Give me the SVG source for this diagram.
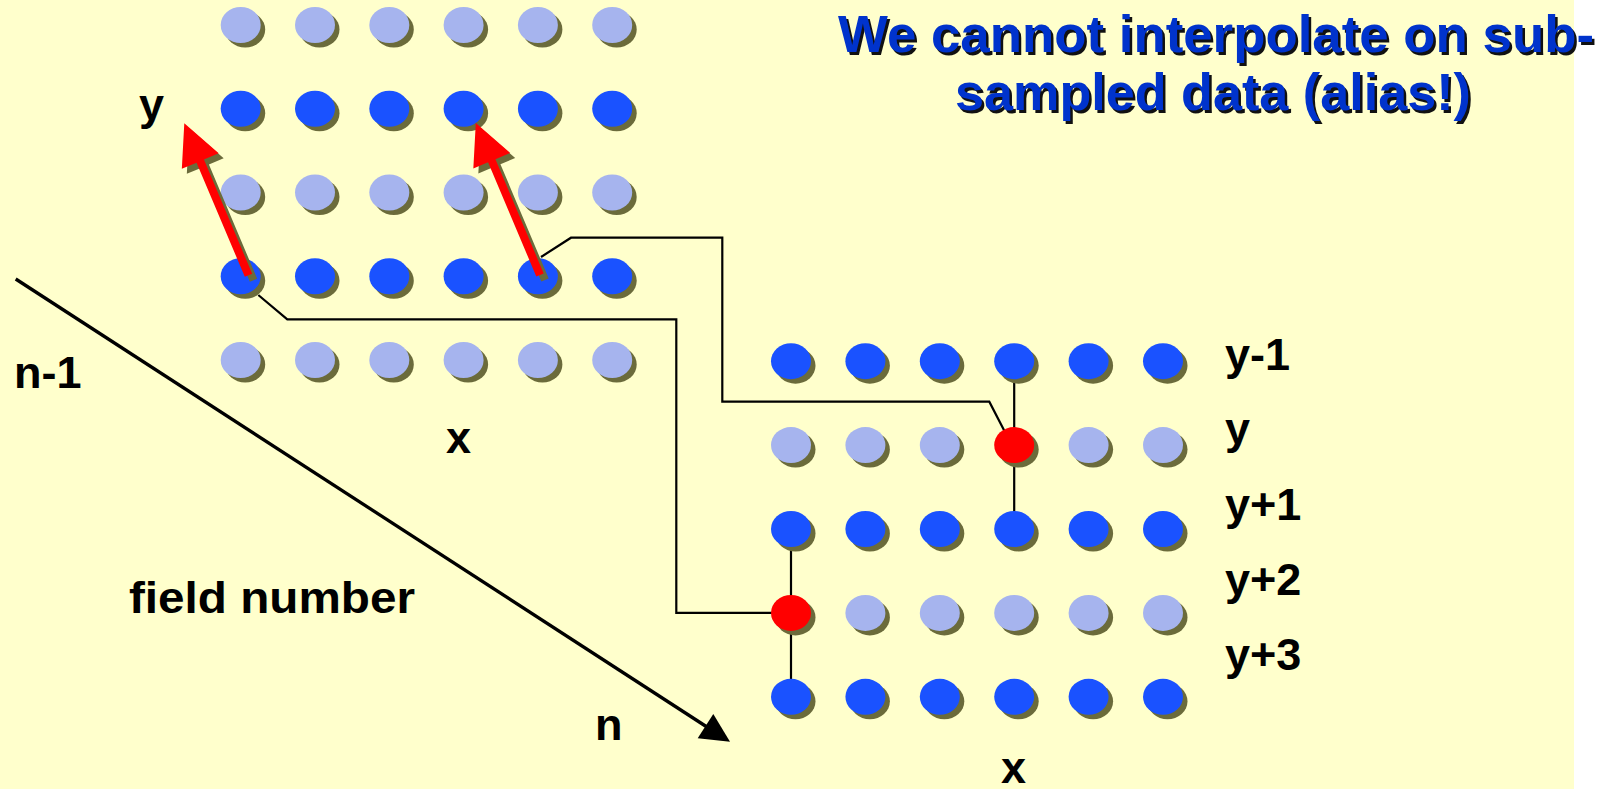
<svg xmlns="http://www.w3.org/2000/svg" xmlns:xlink="http://www.w3.org/1999/xlink" width="1620" height="789" viewBox="0 0 1620 789">
  <style>
    .bg { fill: #FFFFCC; }
    .shadow { fill: #6B6B3B; }
    .dark { fill: #1A52FF; }
    .light { fill: #A6B4EE; }
    .red { fill: #FF0000; }
    .wire { fill: none; stroke: #000; stroke-width: 2.2; stroke-linejoin: miter; }
    .axis { fill: none; stroke: #000; stroke-width: 3.3; }
    .lbl { font-family: "Liberation Sans", Arial, Helvetica, sans-serif; font-weight: bold; font-size: 45px; fill: #000; }
    .title { font-family: "Liberation Sans", Arial, Helvetica, sans-serif; font-weight: bold; font-size: 52.5px; }
    .title-fg { fill: #0033CC; }
    .title-sh { fill: #111; }
  </style>
  <defs>
    <!-- sample dots: drop shadow plus coloured disc -->
    <g id="dk"><ellipse class="shadow" cx="4.5" cy="4.5" rx="20" ry="18"/><ellipse class="dark" cx="0" cy="0" rx="20" ry="18"/></g>
    <g id="lt"><ellipse class="shadow" cx="4.5" cy="4.5" rx="20" ry="18"/><ellipse class="light" cx="0" cy="0" rx="20" ry="18"/></g>
    <g id="rd"><ellipse class="shadow" cx="4.5" cy="4.5" rx="20" ry="18"/><ellipse class="red" cx="0" cy="0" rx="20" ry="18"/></g>
    <!-- motion arrow pointing up from its base at the origin -->
    <polygon id="mv" points="-4,0 -4,-124 -20,-124 0,-165 20,-124 4,-124 4,0"/>
  </defs>

  <!-- background -->
  <rect x="0" y="0" width="1620" height="789" fill="#FFFFFF"/>
  <rect class="bg" x="0" y="0" width="1574" height="789"/>

  <!-- connectors -->
  <g id="connectors">
    <path class="wire" d="M258.3,295 L287.3,319.3 L676.3,319.3 L676.3,612.9 L791,612.9"/>
    <path class="wire" d="M541,257 L571,237.7 L722.3,237.7 L722.3,401.7 L989.3,401.7 L1006,434"/>
    <path class="wire" d="M1014.2,361.2 V529"/>
    <path class="wire" d="M791,529 V696.8"/>
    <g id="field-axis">
      <path class="axis" d="M15.7,279 L707,727"/>
      <polygon points="730,741.7 697.7,738.3 713.3,714" fill="#000"/>
    </g>
  </g>

  <!-- field n-1 (upper grid) -->
  <g id="field-prev">
    <use xlink:href="#lt" x="240.7" y="25"/><use xlink:href="#lt" x="315" y="25"/><use xlink:href="#lt" x="389.3" y="25"/><use xlink:href="#lt" x="463.6" y="25"/><use xlink:href="#lt" x="537.9" y="25"/><use xlink:href="#lt" x="612.2" y="25"/>
    <use xlink:href="#dk" x="240.7" y="108.75"/><use xlink:href="#dk" x="315" y="108.75"/><use xlink:href="#dk" x="389.3" y="108.75"/><use xlink:href="#dk" x="463.6" y="108.75"/><use xlink:href="#dk" x="537.9" y="108.75"/><use xlink:href="#dk" x="612.2" y="108.75"/>
    <use xlink:href="#lt" x="240.7" y="192.5"/><use xlink:href="#lt" x="315" y="192.5"/><use xlink:href="#lt" x="389.3" y="192.5"/><use xlink:href="#lt" x="463.6" y="192.5"/><use xlink:href="#lt" x="537.9" y="192.5"/><use xlink:href="#lt" x="612.2" y="192.5"/>
    <use xlink:href="#dk" x="240.7" y="276.25"/><use xlink:href="#dk" x="315" y="276.25"/><use xlink:href="#dk" x="389.3" y="276.25"/><use xlink:href="#dk" x="463.6" y="276.25"/><use xlink:href="#dk" x="537.9" y="276.25"/><use xlink:href="#dk" x="612.2" y="276.25"/>
    <use xlink:href="#lt" x="240.7" y="360"/><use xlink:href="#lt" x="315" y="360"/><use xlink:href="#lt" x="389.3" y="360"/><use xlink:href="#lt" x="463.6" y="360"/><use xlink:href="#lt" x="537.9" y="360"/><use xlink:href="#lt" x="612.2" y="360"/>
  </g>

  <!-- field n (lower grid) -->
  <g id="field-cur">
    <use xlink:href="#dk" x="791" y="361.2"/><use xlink:href="#dk" x="865.4" y="361.2"/><use xlink:href="#dk" x="939.8" y="361.2"/><use xlink:href="#dk" x="1014.2" y="361.2"/><use xlink:href="#dk" x="1088.6" y="361.2"/><use xlink:href="#dk" x="1163" y="361.2"/>
    <use xlink:href="#lt" x="791" y="445.1"/><use xlink:href="#lt" x="865.4" y="445.1"/><use xlink:href="#lt" x="939.8" y="445.1"/><use xlink:href="#rd" x="1014.2" y="445.1"/><use xlink:href="#lt" x="1088.6" y="445.1"/><use xlink:href="#lt" x="1163" y="445.1"/>
    <use xlink:href="#dk" x="791" y="529"/><use xlink:href="#dk" x="865.4" y="529"/><use xlink:href="#dk" x="939.8" y="529"/><use xlink:href="#dk" x="1014.2" y="529"/><use xlink:href="#dk" x="1088.6" y="529"/><use xlink:href="#dk" x="1163" y="529"/>
    <use xlink:href="#rd" x="791" y="612.9"/><use xlink:href="#lt" x="865.4" y="612.9"/><use xlink:href="#lt" x="939.8" y="612.9"/><use xlink:href="#lt" x="1014.2" y="612.9"/><use xlink:href="#lt" x="1088.6" y="612.9"/><use xlink:href="#lt" x="1163" y="612.9"/>
    <use xlink:href="#dk" x="791" y="696.8"/><use xlink:href="#dk" x="865.4" y="696.8"/><use xlink:href="#dk" x="939.8" y="696.8"/><use xlink:href="#dk" x="1014.2" y="696.8"/><use xlink:href="#dk" x="1088.6" y="696.8"/><use xlink:href="#dk" x="1163" y="696.8"/>
  </g>

  <!-- motion vectors -->
  <g id="motion-1">
    <use xlink:href="#mv" class="shadow" transform="translate(253.5,280.3) rotate(-22.9)"/>
    <use xlink:href="#mv" class="red" transform="translate(248.5,275.3) rotate(-22.9)"/>
  </g>
  <g id="motion-2">
    <use xlink:href="#mv" class="shadow" transform="translate(545,280) rotate(-22.9)"/>
    <use xlink:href="#mv" class="red" transform="translate(540,275) rotate(-22.9)"/>
  </g>

  <!-- axis labels -->
  <g id="labels">
    <text class="lbl" x="139" y="120">y</text>
    <text class="lbl" x="14" y="388">n-1</text>
    <text class="lbl" x="446" y="453">x</text>
    <text class="lbl" x="129" y="613" textLength="286" lengthAdjust="spacingAndGlyphs">field number</text>
    <text class="lbl" x="595" y="740">n</text>
    <text class="lbl" x="1225" y="370">y-1</text>
    <text class="lbl" x="1225" y="444">y</text>
    <text class="lbl" x="1225" y="520">y+1</text>
    <text class="lbl" x="1225" y="595">y+2</text>
    <text class="lbl" x="1225" y="670">y+3</text>
    <text class="lbl" x="1001" y="783">x</text>
  </g>

  <!-- heading -->
  <g id="heading" class="title">
    <text class="title-sh" x="840.5" y="54.5" textLength="756" lengthAdjust="spacingAndGlyphs">We cannot interpolate on sub-</text>
    <text class="title-sh" x="957.5" y="112.5" textLength="516" lengthAdjust="spacingAndGlyphs">sampled data (alias!)</text>
    <text class="title-fg" x="838" y="52" textLength="756" lengthAdjust="spacingAndGlyphs">We cannot interpolate on sub-</text>
    <text class="title-fg" x="955" y="110" textLength="516" lengthAdjust="spacingAndGlyphs">sampled data (alias!)</text>
  </g>
</svg>
